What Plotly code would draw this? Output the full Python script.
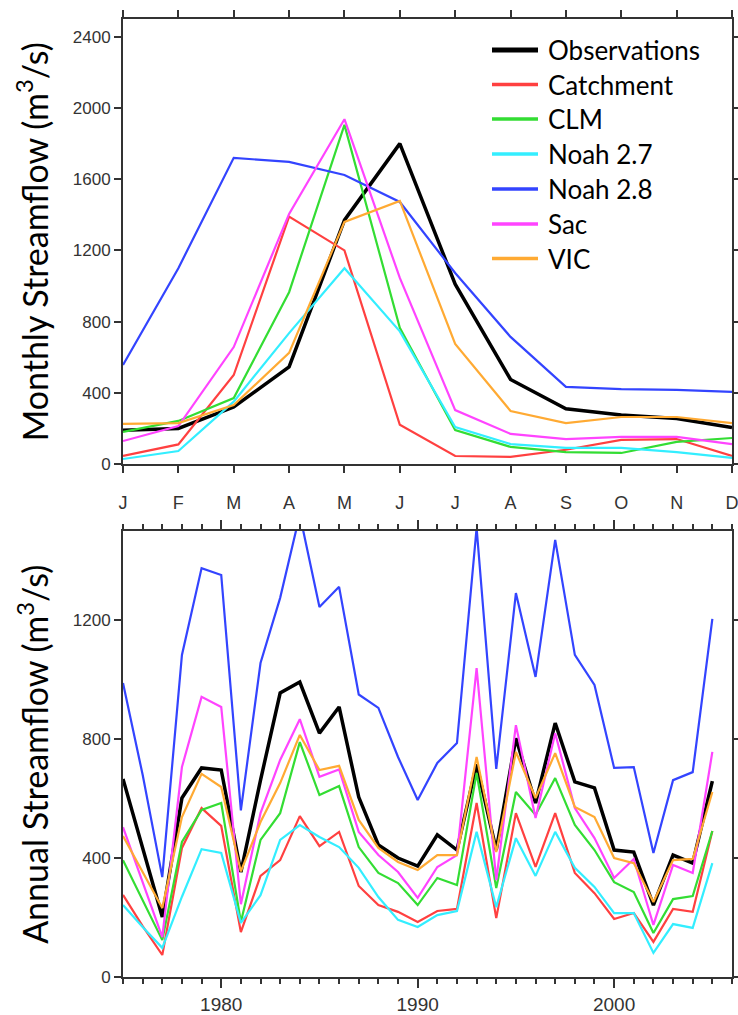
import plotly.graph_objects as go
from plotly.subplots import make_subplots

# ---------------- data ----------------
series_names = ["Observations", "Catchment", "CLM", "Noah 2.7", "Noah 2.8", "Sac", "VIC"]
series_colors = ["#000000", "#FF4040", "#33DD33", "#33EEFF", "#3344FF", "#FF44FF", "#FFAA33"]

month_labels = ["J", "F", "M", "A", "M", "J", "J", "A", "S", "O", "N", "D"]
month_idx = list(range(1, 13))

obs_m = [190, 200, 320, 545, 1370, 1800, 1010, 475, 310, 275, 255, 205]
catchment_m = [45, 110, 500, 1390, 1200, 220, 45, 40, 80, 135, 140, 45]
clm_m = [180, 242, 370, 965, 1905, 765, 190, 96, 67, 62, 124, 146]
noah27_m = [28, 73, 350, 735, 1100, 745, 208, 112, 90, 90, 67, 34]
noah28_m = [556, 1100, 1720, 1697, 1624, 1472, 1073, 714, 433, 421, 416, 405]
sac_m = [129, 213, 657, 1405, 1937, 1045, 303, 169, 140, 152, 152, 112]
vic_m = [225, 230, 331, 624, 1360, 1478, 674, 298, 230, 264, 264, 230]

years = list(range(1975, 2006))
obs_a = [666, 434, 202, 602, 703, 696, 353, 662, 955, 992, 820, 908, 605, 444, 400,
         373, 478, 427, 715, 427, 803, 585, 854, 656, 636, 427, 420, 242, 410, 383, 659]
catchment_a = [276, 171, 74, 434, 568, 508, 151, 340, 393, 541, 440, 488, 306, 242, 219,
               185, 222, 229, 585, 198, 551, 370, 551, 350, 282, 195, 215, 118, 229, 219, 491]
clm_a = [393, 259, 124, 454, 562, 585, 185, 461, 551, 790, 612, 642, 437, 350, 316,
         242, 333, 309, 686, 299, 622, 545, 669, 511, 427, 319, 286, 148, 262, 272, 491]
noah27_a = [242, 168, 98, 270, 430, 417, 182, 275, 461, 511, 471, 437, 367, 269, 192,
            168, 208, 222, 488, 235, 467, 340, 488, 367, 303, 215, 215, 81, 178, 165, 383]
noah28_a = [989, 680, 336, 1083, 1375, 1352, 560, 1056, 1275, 1555, 1244, 1312, 950, 905, 740,
            595, 720, 787, 1510, 700, 1291, 1009, 1470, 1083, 982, 703, 706, 417, 662, 689, 1204]
sac_a = [504, 320, 134, 706, 942, 908, 245, 551, 730, 867, 673, 698, 488, 410, 353,
         266, 370, 410, 1039, 326, 847, 535, 820, 568, 467, 333, 397, 175, 377, 350, 757]
vic_a = [474, 353, 232, 538, 683, 639, 355, 521, 652, 814, 696, 710, 528, 434, 387,
         360, 410, 410, 740, 420, 757, 602, 753, 572, 538, 400, 383, 252, 393, 397, 622]

monthly = [obs_m, catchment_m, clm_m, noah27_m, noah28_m, sac_m, vic_m]
annual = [obs_a, catchment_a, clm_a, noah27_a, noah28_a, sac_a, vic_a]
line_widths = [3.5, 2.2, 2.2, 2.2, 2.2, 2.2, 2.2]

monthly_yticks = [0, 400, 800, 1200, 1600, 2000, 2400]
annual_yticks = [0, 400, 800, 1200]
annual_xticks = [1980, 1990, 2000]

# ---------------- figure ----------------
fig = make_subplots(rows=2, cols=1, vertical_spacing=0.07)

for name, col, lw, ym, ya in zip(series_names, series_colors, line_widths, monthly, annual):
    fig.add_trace(go.Scatter(x=month_idx, y=ym, mode="lines", name=name,
                             line=dict(color=col, width=lw), showlegend=False), row=1, col=1)
    fig.add_trace(go.Scatter(x=years, y=ya, mode="lines", name=name,
                             line=dict(color=col, width=lw), showlegend=False), row=2, col=1)

axis_common = dict(showline=True, linecolor="#333333", linewidth=2, mirror="allticks",
                   ticks="outside", tickcolor="#333333", tickwidth=1.5, showgrid=False,
                   zeroline=False, automargin=False, ticklabeloverflow="allow")
tick_font = dict(family="Liberation Sans", size=17, color="#333333")

fig.update_xaxes(range=[1, 12], tickvals=month_idx, ticktext=month_labels, ticklen=7,
                 ticklabelstandoff=14, tickfont=dict(family="Liberation Sans", size=18, color="#333333"),
                 domain=[0, 1], row=1, col=1, **axis_common)
fig.update_yaxes(range=[0, 2500], tickvals=monthly_yticks, ticklen=7, tickfont=tick_font,
                 domain=[0.5355, 1.0], row=1, col=1, **axis_common)
fig.update_xaxes(range=[1975, 2006], tickvals=annual_xticks, ticklen=9,
                 ticklabelstandoff=0, tickfont=dict(family="Liberation Sans", size=19, color="#333333"),
                 minor=dict(dtick=1, ticklen=5, ticks="outside", tickcolor="#333333", tickwidth=1.5),
                 domain=[0, 1], row=2, col=1, **axis_common)
fig.update_yaxes(range=[0, 1500], tickvals=annual_yticks, ticklen=7, tickfont=tick_font,
                 domain=[0.0, 0.4656], row=2, col=1, **axis_common)

# y-axis titles
title_font = dict(family="Lato", size=34, color="#000000")
fig.add_annotation(text="Monthly Streamflow (m<sup>3</sup>/s)", xref="paper", yref="paper",
                   x=-0.148, y=(0.5355 + 1.0) / 2, textangle=-90, showarrow=False,
                   font=title_font, xanchor="center", yanchor="middle")
fig.add_annotation(text="Annual Streamflow (m<sup>3</sup>/s)", xref="paper", yref="paper",
                   x=-0.148, y=0.4656 / 2, textangle=-90, showarrow=False,
                   font=title_font, xanchor="center", yanchor="middle")

# legend (manual, inside top panel)
W, H = 738, 1015
ml, mr, mt, mb = 123, 6, 19, 38
pw, ph = W - ml - mr, H - mt - mb


def px_x(x):
    return (x - ml) / pw


def px_y(y):
    return (H - mb - y) / ph


row_y = [50, 84.5, 119, 154, 189, 224, 258.5]
for name, col, lw, ry in zip(series_names, series_colors, line_widths, row_y):
    fig.add_shape(type="line", xref="paper", yref="paper",
                  x0=px_x(492), x1=px_x(538), y0=px_y(ry), y1=px_y(ry),
                  line=dict(color=col, width=lw + 1.5))
    fig.add_annotation(text=name, xref="paper", yref="paper", x=px_x(546), y=px_y(ry),
                       xanchor="left", yanchor="middle", showarrow=False,
                       font=dict(family="Lato", size=26, color="#000000"))

fig.update_layout(width=W, height=H, margin=dict(l=ml, r=mr, t=mt, b=mb),
                  plot_bgcolor="white", paper_bgcolor="white", showlegend=False)

fig.write_html("out.html")
